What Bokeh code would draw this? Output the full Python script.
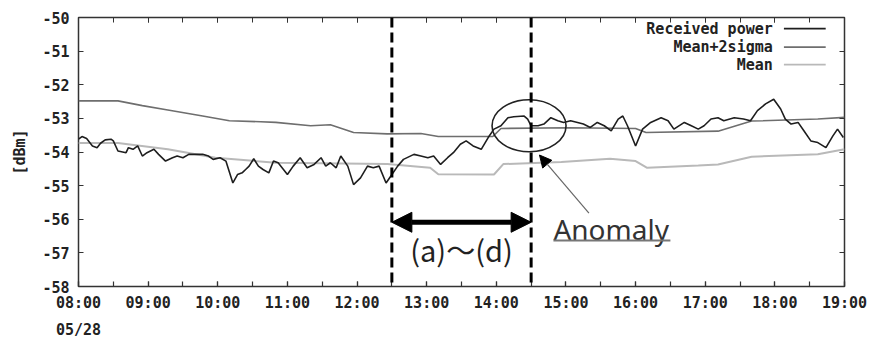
from bokeh.plotting import figure
from bokeh.models import (Span, Arrow, NormalHead, Label, FixedTicker, LinearAxis,
                          BoxAnnotation)
from bokeh.embed import file_html
from bokeh.resources import INLINE

# ---------------- data (minutes after 08:00, dBm) ----------------
recv_min = [0, 3, 7, 12, 16, 19, 23, 28, 30, 34, 41, 43, 47, 51, 55, 59, 65, 69, 75, 81,
            85, 90, 95, 101, 107, 112, 116, 122, 127, 133, 137, 141, 144, 147, 151, 155,
            159, 164, 168, 172, 180, 185, 191, 197, 203, 209, 213, 217, 222, 226, 232,
            237, 243, 249, 254, 259, 265, 269, 275, 280, 289, 295, 301, 306, 312, 318,
            323, 329, 334, 340, 347, 353, 358, 364, 370, 375, 384, 387, 390, 396, 401,
            407, 413, 418, 424, 430, 435, 441, 447, 453, 459, 465, 469, 473, 480, 486,
            493, 502, 508, 513, 522, 528, 534, 539, 545, 551, 556, 565, 573, 579, 585,
            592, 599, 605, 609, 614, 620, 625, 631, 637, 644, 650, 654, 659]
recv_val = [-53.62, -53.54, -53.60, -53.82, -53.87, -53.74, -53.64, -53.62, -53.67, -53.97,
            -54.02, -53.87, -53.92, -53.82, -54.12, -54.02, -53.92, -54.07, -54.27, -54.17,
            -54.12, -54.17, -54.07, -54.07, -54.07, -54.12, -54.22, -54.17, -54.27, -54.92,
            -54.67, -54.62, -54.52, -54.42, -54.20, -54.42, -54.52, -54.62, -54.27, -54.32,
            -54.67, -54.42, -54.17, -54.47, -54.37, -54.17, -54.42, -54.32, -54.47, -54.12,
            -54.42, -54.97, -54.77, -54.42, -54.47, -54.42, -54.92, -54.72, -54.42, -54.22,
            -54.07, -54.12, -54.17, -54.12, -54.37, -54.17, -54.02, -53.77, -53.67, -53.82,
            -53.92, -53.57, -53.32, -53.22, -52.98, -52.95, -52.93, -53.02, -53.22, -53.22,
            -53.17, -52.98, -53.07, -53.12, -53.07, -53.12, -53.17, -53.27, -53.12, -53.22,
            -53.37, -53.02, -52.93, -53.22, -53.82, -53.32, -53.12, -52.98, -53.07, -53.32,
            -53.12, -53.22, -53.32, -53.22, -53.02, -52.98, -53.07, -52.98, -53.02, -53.07,
            -52.77, -52.57, -52.43, -52.72, -53.02, -53.17, -53.12, -53.37, -53.67, -53.72,
            -53.87, -53.52, -53.32, -53.57]

m2s_min = [0, 34, 55, 77, 107, 130, 157, 170, 200, 217, 237, 266, 295, 310, 357, 364,
           422, 480, 489, 551, 580, 637, 660]
m2s_val = [-52.48, -52.48, -52.62, -52.75, -52.93, -53.07, -53.10, -53.12, -53.22, -53.19,
           -53.42, -53.46, -53.45, -53.54, -53.54, -53.30, -53.28, -53.30, -53.42, -53.38,
           -53.08, -53.02, -52.97]

mean_min = [0, 34, 77, 118, 170, 266, 303, 310, 358, 366, 416, 458, 480, 490, 534, 551,
            580, 637, 660]
mean_val = [-53.73, -53.73, -53.92, -54.17, -54.32, -54.36, -54.47, -54.66, -54.67, -54.36,
            -54.30, -54.20, -54.27, -54.47, -54.40, -54.37, -54.14, -54.07, -53.92]

tick_hours = [8, 9, 10, 11, 12, 13, 14, 15, 16, 17, 18, 19]
tick_labels = ["08:00", "09:00", "10:00", "11:00", "12:00", "13:00", "14:00", "15:00",
               "16:00", "17:00", "18:00", "19:00"]
y_ticks = [-58, -57, -56, -55, -54, -53, -52, -51, -50]
series_names = ["Received power", "Mean+2sigma", "Mean"]
date_label = "05/28"
window_start, window_end = 12.5, 14.5   # (a)~(d) interval, hours
anomaly_time, anomaly_level = 14.47, -53.22

def hours(mins):
    return [8 + m / 60.0 for m in mins]

MONO = "DejaVu Sans Mono"
c_recv, c_m2s, c_mean = "#1e1e1e", "#6e6e6e", "#b9b9b9"
TICK_C = "#333333"

p = figure(width=875, height=341, x_range=(8, 19), y_range=(-58, -50),
           output_backend="svg", toolbar_location=None,
           min_border_left=78, min_border_right=31, min_border_top=17,
           min_border_bottom=10)
p.title.visible = False
p.grid.visible = False
p.outline_line_color = TICK_C
p.outline_line_width = 1.5
p.background_fill_color = "white"

half_ticks = [8 + 0.5 * i for i in range(23)]

p.xaxis.ticker = FixedTicker(ticks=tick_hours, minor_ticks=half_ticks)
p.xaxis.major_label_overrides = {t: lab for t, lab in zip(tick_hours, tick_labels)}
p.yaxis.ticker = FixedTicker(ticks=y_ticks)
p.yaxis.major_label_overrides = {v: "%d" % v for v in y_ticks}

for ax in p.axis:
    ax.axis_line_color = None
    ax.major_tick_in = 5
    ax.major_tick_out = 0
    ax.minor_tick_in = 5
    ax.minor_tick_out = 0
    ax.minor_tick_line_color = TICK_C
    ax.minor_tick_line_width = 1.2
    ax.major_tick_line_color = TICK_C
    ax.major_tick_line_width = 1.2
    ax.major_label_text_font = MONO
    ax.major_label_text_font_style = "bold"
    ax.major_label_text_font_size = "15px"
    ax.major_label_text_color = "#222222"
p.xaxis.major_label_standoff = 7
p.yaxis.major_label_standoff = 9
p.yaxis.axis_label = "[dBm]"
p.yaxis.axis_label_text_font = MONO
p.yaxis.axis_label_text_font_style = "bold"
p.yaxis.axis_label_text_font_size = "15px"
p.yaxis.axis_label_text_color = "#222222"
p.yaxis.axis_label_standoff = 10

# mirrored ticks on top and right (no labels)
top = LinearAxis(ticker=FixedTicker(ticks=tick_hours, minor_ticks=half_ticks),
                 major_label_text_color=None, axis_line_color=None,
                 major_tick_in=5, major_tick_out=0, minor_tick_in=5, minor_tick_out=0,
                 minor_tick_line_color=TICK_C, major_tick_line_color=TICK_C,
                 major_label_standoff=0)
right = LinearAxis(ticker=FixedTicker(ticks=y_ticks), major_label_text_color=None,
                   axis_line_color=None, major_tick_in=5, major_tick_out=0,
                   minor_tick_line_color=None, major_tick_line_color=TICK_C,
                   major_label_standoff=0)
p.add_layout(top, "above")
p.add_layout(right, "right")

# date line under the first tick
date_ax = LinearAxis(ticker=FixedTicker(ticks=[tick_hours[0]]),
                     major_label_overrides={tick_hours[0]: date_label},
                     axis_line_color=None, major_tick_line_color=None,
                     minor_tick_line_color=None, major_label_standoff=0,
                     major_label_text_font=MONO, major_label_text_font_style="bold",
                     major_label_text_font_size="15px", major_label_text_color="#222222")
p.add_layout(date_ax, "below")

# series
p.line(hours(mean_min), mean_val, line_color=c_mean, line_width=2)
p.line(hours(m2s_min), m2s_val, line_color=c_m2s, line_width=1.6)
p.line(hours(recv_min), recv_val, line_color=c_recv, line_width=1.6)

# legend (text right-aligned, sample line on the right)
leg_y = [-50.33, -50.88, -51.4]
for name, yy, col in zip(series_names, leg_y, [c_recv, c_m2s, c_mean]):
    p.add_layout(Label(x=17.97, y=yy, text=name, text_align="right", text_baseline="middle",
                       text_font=MONO, text_font_style="bold", text_font_size="15px",
                       text_color="#222222"))
    p.add_layout(BoxAnnotation(left=18.13, right=18.73, top=yy + 0.025, bottom=yy - 0.025,
                               fill_color=col, fill_alpha=1, line_color=None))

# interval markers
for xv in (window_start, window_end):
    p.add_layout(Span(location=xv, dimension="height", line_color="black",
                      line_width=3, line_dash="10 5"))

p.add_layout(Arrow(start=NormalHead(size=20, fill_color="black", line_color="black"),
                   end=NormalHead(size=20, fill_color="black", line_color="black"),
                   x_start=window_start, x_end=window_end, y_start=-56.09, y_end=-56.09,
                   line_width=5, line_color="black"))
p.add_layout(Label(x=(window_start + window_end) / 2, y=-56.87, text="(a)〜(d)",
                   text_align="center", text_baseline="middle",
                   text_font="Noto Sans CJK JP", text_font_size="29px",
                   text_color="#222222"))

# anomaly annotation
p.ellipse(x=[anomaly_time], y=[anomaly_level], width=1.063, height=1.55,
          fill_color=None, line_color="#222222", line_width=1.6)
p.add_layout(Arrow(end=NormalHead(size=12, fill_color="black", line_color="black"),
                   x_start=15.33, y_start=-55.82, x_end=14.62, y_end=-54.09,
                   line_width=1.2, line_color="#666666"))
p.add_layout(Label(x=14.82, y=-56.3, text="Anomaly", text_align="left",
                   text_baseline="middle", text_font="Noto Sans",
                   text_font_size="28px", text_color="#333333"))
p.add_layout(BoxAnnotation(left=14.82, right=16.5, top=-56.60, bottom=-56.66,
                           fill_color="#777777", fill_alpha=1, line_color=None))

open("out.html", "w").write(file_html(p, INLINE))
